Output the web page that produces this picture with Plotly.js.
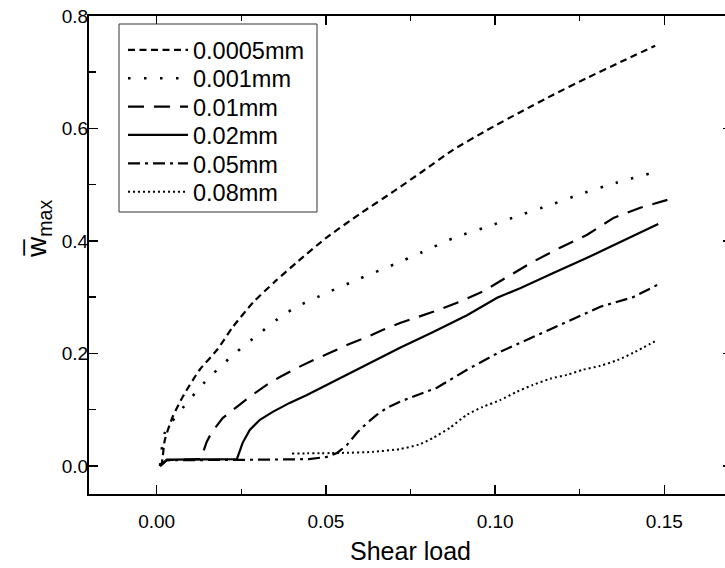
<!DOCTYPE html>
<html>
<head>
<meta charset="utf-8">
<script src="https://cdn.plot.ly/plotly-3.0.1.min.js"></script>
<style>
html,body{margin:0;padding:0;overflow:hidden;background:#fff;}
#chart{width:734px;height:568px;}
</style>
</head>
<body>
<div id="chart"></div>
<script>
// Series names
const names = ["0.0005mm", "0.001mm", "0.01mm", "0.02mm", "0.05mm", "0.08mm"];

// 0.0005mm
const x1 = [0.001, 0.0015, 0.0024, 0.0047, 0.0077, 0.0127, 0.0178, 0.0225, 0.0284, 0.035, 0.042, 0.05, 0.06, 0.07, 0.0784, 0.0876, 0.0976, 0.1074, 0.1172, 0.1272, 0.137, 0.1473];
const y1 = [0, 0.005, 0.046, 0.087, 0.123, 0.171, 0.206, 0.247, 0.290, 0.328, 0.365, 0.405, 0.448, 0.488, 0.523, 0.562, 0.597, 0.629, 0.660, 0.690, 0.718, 0.747];
// 0.001mm
const x2 = [0.001, 0.0024, 0.0077, 0.0142, 0.0216, 0.029, 0.0373, 0.0417, 0.05, 0.06, 0.07, 0.0784, 0.0876, 0.0976, 0.1074, 0.1163, 0.126, 0.1355, 0.147];
const y2 = [0, 0.059, 0.103, 0.149, 0.192, 0.229, 0.268, 0.284, 0.307, 0.333, 0.358, 0.380, 0.405, 0.425, 0.446, 0.464, 0.485, 0.503, 0.522];
// 0.01mm
const x3 = [0.001, 0.003, 0.013, 0.0148, 0.0163, 0.0195, 0.0237, 0.0275, 0.0325, 0.0364, 0.0414, 0.0462, 0.0512, 0.0562, 0.0621, 0.0669, 0.0719, 0.0817, 0.0896, 0.0964, 0.1036, 0.1112, 0.1192, 0.1272, 0.135, 0.1429, 0.1509];
const y3 = [0, 0.01, 0.012, 0.043, 0.060, 0.085, 0.105, 0.123, 0.144, 0.158, 0.174, 0.188, 0.201, 0.215, 0.229, 0.242, 0.254, 0.274, 0.292, 0.31, 0.336, 0.363, 0.388, 0.411, 0.441, 0.459, 0.473];
// 0.02mm
const x4 = [0.001, 0.003, 0.0237, 0.0254, 0.0275, 0.0305, 0.0343, 0.0393, 0.0444, 0.0503, 0.0562, 0.0621, 0.068, 0.0719, 0.0817, 0.0917, 0.1006, 0.1074, 0.1172, 0.1272, 0.137, 0.1482];
const y4 = [0, 0.011, 0.012, 0.041, 0.064, 0.082, 0.096, 0.112, 0.126, 0.144, 0.162, 0.180, 0.198, 0.210, 0.238, 0.268, 0.299, 0.316, 0.343, 0.370, 0.398, 0.430];
// 0.05mm
const x5 = [0.001, 0.003, 0.03, 0.045, 0.0503, 0.0533, 0.0562, 0.0592, 0.0621, 0.0651, 0.068, 0.0719, 0.0757, 0.0799, 0.0828, 0.0917, 0.1015, 0.1112, 0.1213, 0.1311, 0.1408, 0.148];
const y5 = [0, 0.01, 0.011, 0.012, 0.016, 0.023, 0.037, 0.059, 0.076, 0.091, 0.103, 0.114, 0.123, 0.132, 0.139, 0.171, 0.203, 0.229, 0.256, 0.283, 0.300, 0.322];
// 0.08mm
const x6 = [0.040, 0.054, 0.064, 0.0719, 0.0775, 0.0817, 0.0867, 0.0917, 0.0964, 0.1015, 0.1065, 0.1112, 0.1163, 0.1213, 0.126, 0.1311, 0.1361, 0.1408, 0.148];
const y6 = [0.022, 0.023, 0.025, 0.030, 0.038, 0.050, 0.068, 0.091, 0.105, 0.117, 0.132, 0.144, 0.155, 0.162, 0.171, 0.178, 0.188, 0.201, 0.224];

const xTickVals = [0, 0.05, 0.10, 0.15];
const xTickText = ["0.00", "0.05", "0.10", "0.15"];
const yTickVals = [0, 0.2, 0.4, 0.6, 0.8];
const yTickText = ["0.0", "0.2", "0.4", "0.6", "0.8"];

const xs = [x1, x2, x3, x4, x5, x6];
const ys = [y1, y2, y3, y4, y5, y6];
const dashes = ["7px,4.5px", "2.5px,13.5px", "16px,10px", "solid", "12px,5px,3px,5px", "2px,3px"];
const widths = [2.2, 2.6, 2.2, 2.2, 2.2, 2];
const shapes = ["spline", "spline", "linear", "linear", "linear", "spline"];

const legendIds = ["legend", "legend2", "legend3", "legend4", "legend5", "legend6"];

const data = xs.map((x, i) => ({
  x: x, y: ys[i], name: names[i], type: 'scatter', mode: 'lines',
  legend: legendIds[i],
  line: {color: '#000', width: widths[i], dash: dashes[i], shape: shapes[i], smoothing: 0.6}
}));

const font = "'Liberation Sans', Arial, sans-serif";

// plot area geometry in px (for converting the legend layout to paper coords)
const L = 89, T = 16, W = 643, H = 478;
const px2x = p => (p - L) / W;
const py2y = p => (T + H - p) / H;

const rowY = [50, 78.4, 106.8, 135.2, 163.6, 192];

const layout = {
  width: 734, height: 568,
  margin: {l: L, r: 2, t: T, b: 74},
  paper_bgcolor: '#fff', plot_bgcolor: 'rgba(0,0,0,0)',
  font: {family: font, color: '#000', size: 19},
  showlegend: true,
  xaxis: {
    range: [-0.02, 0.17], showgrid: false, zeroline: false,
    showline: true, linecolor: '#000', linewidth: 2, mirror: 'ticks',
    ticks: 'inside', ticklen: 9, tickwidth: 1.5, tickcolor: '#000',
    tickvals: xTickVals, ticktext: xTickText,
    tickfont: {size: 19, family: font, color: '#000'},
    ticklabelstandoff: 9,
    minor: {ticks: 'inside', ticklen: 5, tickwidth: 1.5, tickcolor: '#000', dtick: 0.025, tick0: 0, showgrid: false},
    title: {text: 'Shear load', font: {size: 25, family: font, color: '#000'}, standoff: 12}
  },
  yaxis: {
    range: [-0.05, 0.8], showgrid: false, zeroline: false,
    showline: true, linecolor: '#000', linewidth: 2, mirror: 'ticks',
    ticks: 'inside', ticklen: 9, tickwidth: 1.5, tickcolor: '#000',
    tickvals: yTickVals, ticktext: yTickText,
    tickfont: {size: 19, family: font, color: '#000'},
    ticklabelstandoff: -5,
    minor: {ticks: 'inside', ticklen: 7, tickwidth: 1.5, tickcolor: '#000', dtick: 0.1, tick0: 0, showgrid: false},
    title: {text: ''}
  },
  shapes: [{
    type: 'rect', xref: 'paper', yref: 'paper', layer: 'above',
    x0: px2x(119), x1: px2x(317), y0: py2y(212), y1: py2y(24),
    line: {color: '#333', width: 1}, fillcolor: '#fff'
  }],
  annotations: [{
    xref: 'paper', yref: 'paper', x: px2x(38), y: py2y(229),
    xanchor: 'center', yanchor: 'middle', textangle: -90, showarrow: false,
    text: 'w\u0305<sub>max</sub>', font: {size: 28, family: font, color: '#000'}
  }]
};

legendIds.forEach((id, i) => {
  layout[id] = {
    x: px2x(123), y: py2y(rowY[i]), xanchor: 'left', yanchor: 'middle',
    bgcolor: 'rgba(0,0,0,0)', borderwidth: 0,
    font: {family: font, size: 23.5, color: '#000'},
    itemwidth: 60
  };
});

Plotly.newPlot('chart', data, layout, {displayModeBar: false, staticPlot: true});
</script>
</body>
</html>
